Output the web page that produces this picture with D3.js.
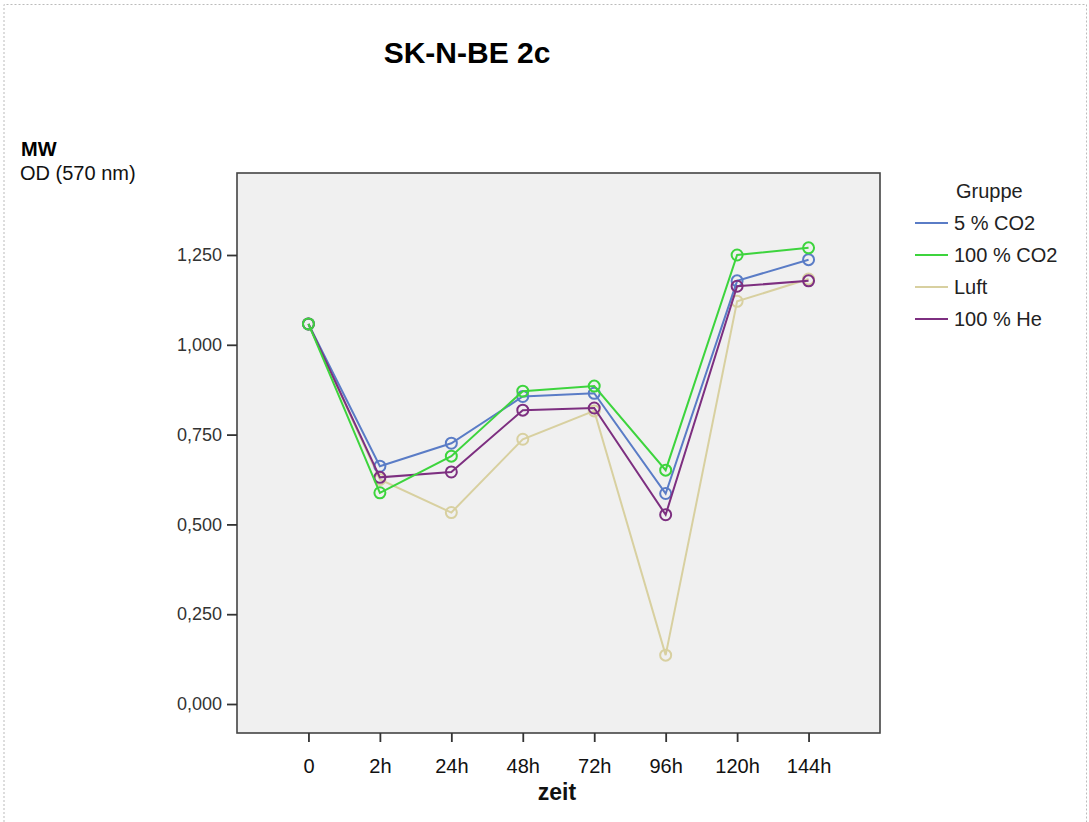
<!DOCTYPE html>
<html>
<head>
<meta charset="utf-8">
<script src="https://cdn.jsdelivr.net/npm/d3@7"></script>
<style>
  body { margin: 0; background: #fff; }
  svg { font-family: "Liberation Sans", Arial, sans-serif; }
</style>
</head>
<body>
<script>
var zeit = ["0", "2h", "24h", "48h", "72h", "96h", "120h", "144h"];
var gruppen = ["5 % CO2", "100 % CO2", "Luft", "100 % He"];
var farben = ["#5a7cc6", "#3dd43d", "#d8d0a0", "#7d2f80"];

var co2_5   = [1.058, 0.662, 0.726, 0.856, 0.865, 0.586, 1.178, 1.237];
var co2_100 = [1.058, 0.588, 0.690, 0.871, 0.885, 0.651, 1.250, 1.270];
var luft    = [1.058, 0.625, 0.533, 0.737, 0.816, 0.136, 1.121, 1.183];
var he_100  = [1.058, 0.631, 0.646, 0.818, 0.824, 0.527, 1.163, 1.178];

var yTicks = [0, 0.25, 0.5, 0.75, 1.0, 1.25];

var reihen = [co2_5, co2_100, luft, he_100];

var width = 1089, height = 822;
var plot = {left: 237, top: 173, right: 880, bottom: 733};

var svg = d3.select("body")
  .append("svg")
    .attr("width", width)
    .attr("height", height);

// dotted outer border
svg.append("path")
  .attr("d", "M4,822 L4,4.5 L1086.5,4.5 L1086.5,822")
  .attr("fill", "none")
  .attr("stroke", "#bbb")
  .attr("stroke-dasharray", "2,2");

svg.append("text")
  .attr("x", 467).attr("y", 63)
  .style("text-anchor", "middle")
  .style("font-size", "30px")
  .style("font-weight", "bold")
  .text("SK-N-BE 2c");

svg.append("text")
  .attr("x", 21).attr("y", 156)
  .style("font-size", "20px")
  .style("font-weight", "bold")
  .text("MW");
svg.append("text")
  .attr("x", 20).attr("y", 180)
  .style("font-size", "20px")
  .attr("fill", "#111")
  .text("OD (570 nm)");

var x = d3.scalePoint()
  .domain(zeit)
  .range([plot.left, plot.right])
  .padding(1);

var y = d3.scaleLinear()
  .domain([0, 1.25])
  .range([704, 255]);

svg.append("rect")
  .attr("x", plot.left).attr("y", plot.top)
  .attr("width", plot.right - plot.left)
  .attr("height", plot.bottom - plot.top)
  .attr("fill", "#f0f0f0")
  .attr("stroke", "#444")
  .attr("stroke-width", 1.6);

var fmt = function(d) { return d3.format(".3f")(d).replace(".", ","); };

var yAxis = svg.append("g")
  .attr("transform", "translate(" + plot.left + ",0)")
  .call(d3.axisLeft(y).tickValues(yTicks).tickFormat(fmt).tickSize(10).tickPadding(5));
yAxis.select(".domain").remove();
yAxis.selectAll("line").attr("stroke", "#333").attr("stroke-width", 1.8);
yAxis.selectAll("text").style("font-size", "18px").style("font-family", "Liberation Sans, Arial, sans-serif").attr("fill", "#333");

var xAxis = svg.append("g")
  .attr("transform", "translate(0," + plot.bottom + ")")
  .call(d3.axisBottom(x).tickSize(9).tickPadding(17));
xAxis.select(".domain").remove();
xAxis.selectAll("line").attr("stroke", "#333").attr("stroke-width", 1.8);
xAxis.selectAll("text").style("font-size", "20px").style("font-family", "Liberation Sans, Arial, sans-serif").attr("fill", "#111");

svg.append("text")
  .attr("x", 557).attr("y", 800)
  .style("text-anchor", "middle")
  .style("font-size", "23px")
  .style("font-weight", "bold")
  .attr("fill", "#111")
  .text("zeit");

var line = d3.line()
  .x(function(d, i) { return x(zeit[i]); })
  .y(function(d) { return y(d); });

// draw Luft first so it sits under the others
var order = [2, 0, 3, 1];
order.forEach(function(k) {
  var g = svg.append("g");
  g.append("path")
    .datum(reihen[k])
    .attr("d", line)
    .attr("fill", "none")
    .attr("stroke", farben[k])
    .attr("stroke-width", 2);
  g.selectAll("circle")
    .data(reihen[k])
    .enter()
    .append("circle")
      .attr("cx", function(d, i) { return x(zeit[i]); })
      .attr("cy", function(d) { return y(d); })
      .attr("r", 5.5)
      .attr("fill", "none")
      .attr("stroke", farben[k])
      .attr("stroke-width", 2);
});

// legend
var leg = svg.append("g");
leg.append("text")
  .attr("x", 956).attr("y", 198)
  .style("font-size", "20px")
  .attr("fill", "#222")
  .text("Gruppe");
gruppen.forEach(function(name, i) {
  var yy = 223 + i * 32;
  leg.append("line")
    .attr("x1", 915).attr("x2", 948)
    .attr("y1", yy).attr("y2", yy)
    .attr("stroke", farben[i])
    .attr("stroke-width", 2.2);
  leg.append("text")
    .attr("x", 954).attr("y", yy + 7)
    .style("font-size", "20px")
    .attr("fill", "#222")
    .text(name);
});
</script>
</body>
</html>
